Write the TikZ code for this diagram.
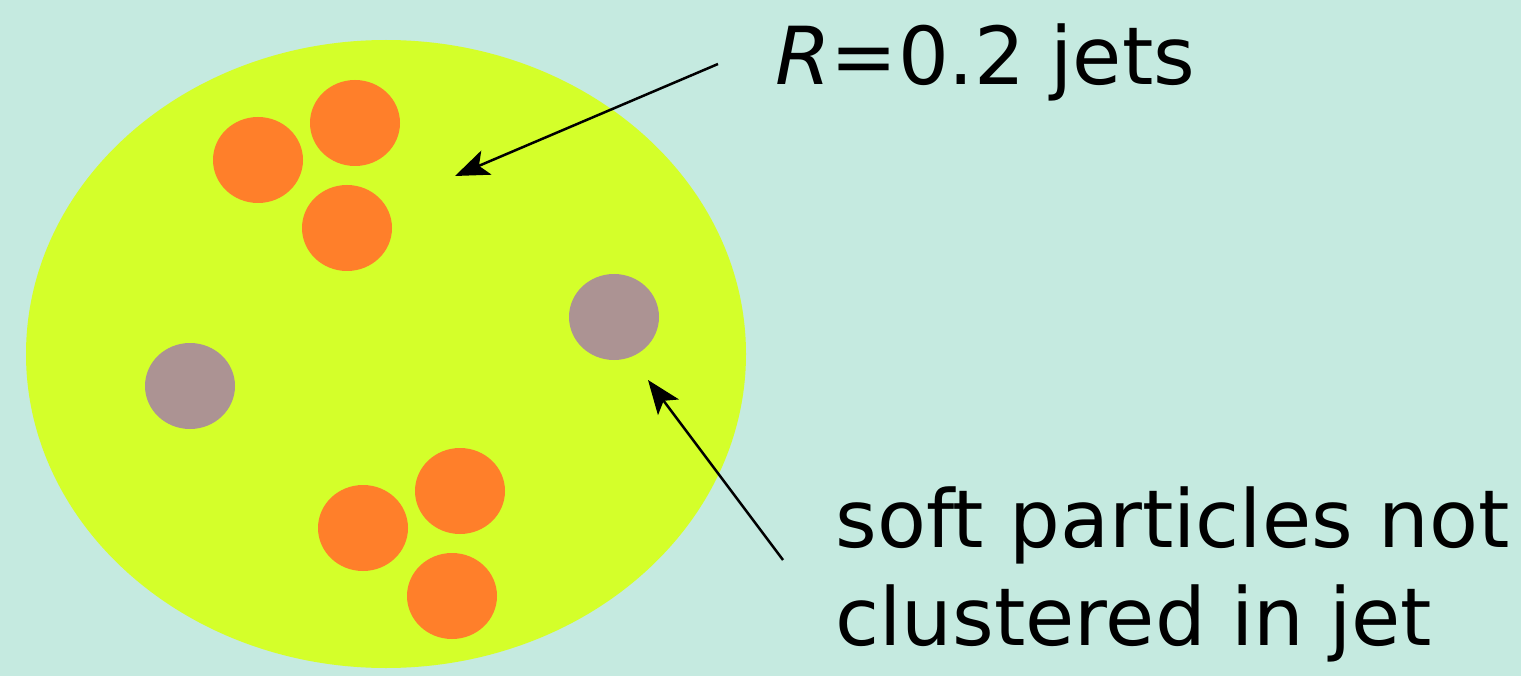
\documentclass[tikz,border=0pt]{standalone}
\usepackage{fontspec}
\setmainfont{DejaVu Sans}
\usetikzlibrary{arrows.meta}

\definecolor{bgteal}{RGB}{197,234,224}
\definecolor{eventlime}{RGB}{212,255,42}
\definecolor{jetorange}{RGB}{255,127,42}
\definecolor{softgray}{RGB}{172,147,147}

\begin{document}
\begin{tikzpicture}[x=0.5pt, y=0.5pt, >={Stealth[length=17pt,width=13pt,inset=4pt]},
    label/.style={inner sep=0pt, font=\fontsize{40pt}{49pt}\selectfont}]
  % background fixes the page size (1521 x 676 px)
  \fill[bgteal] (0,0) rectangle (1521,676);
  \useasboundingbox (0,0) rectangle (1521,676);

  % the event
  \fill[eventlime] (386,322) ellipse [x radius=360, y radius=314];

  % particles clustered into the small-R jets
  \foreach \px/\py in {258/516, 355/553, 347/448, 460/185, 363/148, 452/80}
    \fill[jetorange] (\px,\py) ellipse [x radius=45, y radius=43];
  % soft particles left out
  \foreach \px/\py in {614/359, 190/290}
    \fill[softgray] (\px,\py) ellipse [x radius=45, y radius=43];

  \node[label, anchor=base west] (jetlabel) at (775,591) {\textit{R}=0.2 jets};
  % base of a two-line node is its last line
  \node[label, anchor=base west, align=left] (softlabel) at (835,31)
    {soft particles not\\clustered in jet};

  \coordinate (jettail) at (718,612);
  \coordinate (jettip) at (455,500);
  \coordinate (softtail) at (783,116);
  \coordinate (softtip) at (648,296);
  \draw[->, line width=1.25pt] (jettail) -- (jettip);
  \draw[->, line width=1.25pt] (softtail) -- (softtip);
\end{tikzpicture}
\end{document}
